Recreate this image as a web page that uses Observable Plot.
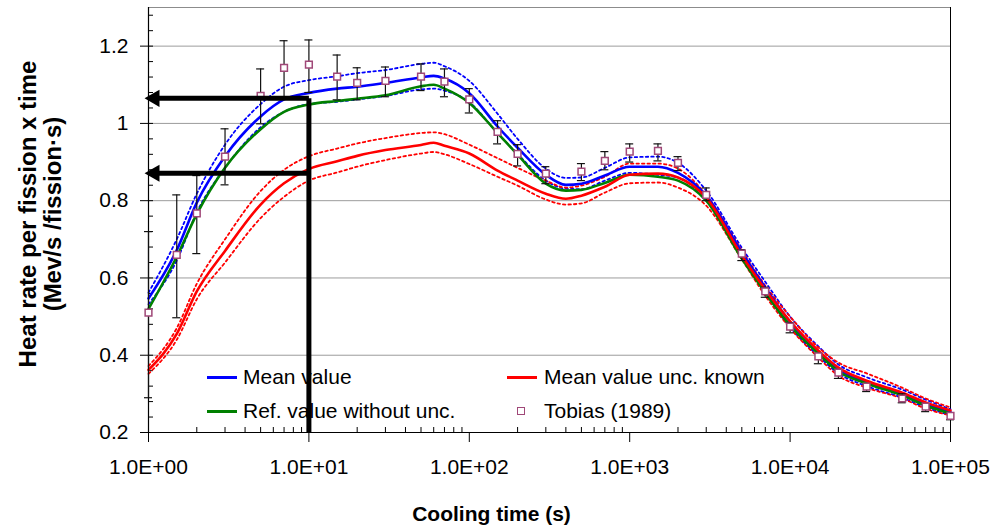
<!DOCTYPE html>
<html>
<head>
<meta charset="utf-8">
<script src="https://cdn.jsdelivr.net/npm/d3@7"></script>
<script src="https://cdn.jsdelivr.net/npm/@observablehq/plot@0.6"></script>
<style>
  body { margin: 0; background: #fff; }
  #wrap { position: relative; width: 996px; height: 527px; background: #fff; font-family: "Liberation Sans", Arial, sans-serif; }
  #legend { position: absolute; left: 0; top: 0; width: 996px; height: 527px; }
  #chart { position: absolute; left: 0; top: 0; }
  .lg-text { position: absolute; font-size: 21px; line-height: 24px; color: #000; white-space: nowrap; }
  .lg-line { position: absolute; width: 30px; height: 3px; }
  .lg-square { position: absolute; width: 6px; height: 6px; border: 1.5px solid #a04878; background: #fff; }
</style>
</head>
<body>
<div id="wrap">
  <div id="legend"></div>
  <div id="chart"></div>
</div>
<script>
// ---------- data ----------
const times = [1, 1.5, 2, 3, 5, 7, 10, 15, 20, 30, 50, 60, 70, 100, 150, 200, 300, 400, 500, 700,
  1000, 1500, 2000, 3000, 5000, 7000, 10000, 15000, 20000, 30000, 50000, 70000, 100000];

const meanValue = [0.547, 0.672, 0.795, 0.915, 1.018, 1.062, 1.079, 1.09, 1.095, 1.105, 1.119, 1.123, 1.116, 1.078, 0.992, 0.937, 0.867, 0.841, 0.844, 0.865,
  0.888, 0.888, 0.872, 0.813, 0.666, 0.575, 0.486, 0.41, 0.364, 0.331, 0.3, 0.275, 0.253];
const meanUpper = [0.562, 0.70, 0.818, 0.945, 1.05, 1.095, 1.112, 1.122, 1.13, 1.138, 1.154, 1.157, 1.148, 1.11, 1.025, 0.96, 0.883, 0.859, 0.86, 0.885,
  0.912, 0.914, 0.898, 0.826, 0.678, 0.59, 0.5, 0.423, 0.376, 0.343, 0.311, 0.285, 0.26];
const meanLower = [0.532, 0.645, 0.77, 0.885, 0.99, 1.03, 1.05, 1.056, 1.062, 1.071, 1.088, 1.09, 1.085, 1.055, 0.975, 0.921, 0.852, 0.831, 0.83, 0.852,
  0.872, 0.867, 0.86, 0.8, 0.652, 0.562, 0.473, 0.398, 0.353, 0.32, 0.29, 0.265, 0.245];
const refValue = [0.52, 0.655, 0.765, 0.885, 0.985, 1.03, 1.049, 1.058, 1.064, 1.073, 1.096, 1.1, 1.09, 1.053, 0.975, 0.919, 0.844, 0.826, 0.828, 0.846,
  0.867, 0.862, 0.852, 0.8, 0.65, 0.562, 0.477, 0.404, 0.358, 0.327, 0.296, 0.27, 0.249];
const uncKnown = [0.362, 0.455, 0.565, 0.67, 0.79, 0.845, 0.882, 0.902, 0.916, 0.931, 0.944, 0.95, 0.942, 0.922, 0.878, 0.852, 0.818, 0.805, 0.813, 0.836,
  0.867, 0.87, 0.86, 0.808, 0.658, 0.57, 0.488, 0.412, 0.368, 0.334, 0.303, 0.278, 0.257];
const uncUpper = [0.372, 0.47, 0.585, 0.70, 0.825, 0.88, 0.915, 0.935, 0.948, 0.962, 0.975, 0.977, 0.972, 0.945, 0.91, 0.885, 0.852, 0.834, 0.839, 0.862,
  0.896, 0.896, 0.883, 0.815, 0.671, 0.58, 0.5, 0.42, 0.381, 0.353, 0.316, 0.288, 0.265];
const uncLower = [0.352, 0.44, 0.545, 0.64, 0.755, 0.81, 0.852, 0.873, 0.888, 0.905, 0.922, 0.926, 0.92, 0.895, 0.862, 0.839, 0.803, 0.79, 0.793, 0.821,
  0.845, 0.847, 0.834, 0.787, 0.648, 0.554, 0.47, 0.394, 0.347, 0.316, 0.288, 0.262, 0.244];

const tobiasTime = [1, 1.5, 2, 3, 5, 7, 10, 15, 20, 30, 50, 70, 100, 150, 200, 300, 500, 700, 1000, 1500, 2000,
  3000, 5000, 7000, 10000, 15000, 20000, 30000, 50000, 70000, 100000];
const tobiasValue = [0.51, 0.66, 0.767, 0.914, 1.071, 1.144, 1.152, 1.121, 1.105, 1.11, 1.121, 1.108, 1.062, 0.978, 0.921, 0.87, 0.875, 0.903, 0.927, 0.929, 0.898,
  0.815, 0.663, 0.565, 0.474, 0.397, 0.355, 0.319, 0.288, 0.267, 0.243];
const tobiasLow = [0.29, 0.497, 0.663, 0.841, 0.999, 1.066, 1.08, 1.061, 1.061, 1.069, 1.085, 1.069, 1.027, 0.947, 0.89, 0.844, 0.852, 0.88, 0.9, 0.903, 0.878,
  0.8, 0.645, 0.55, 0.458, 0.378, 0.34, 0.306, 0.277, 0.254, 0.233];
const tobiasHigh = [0.72, 0.815, 0.865, 0.986, 1.141, 1.214, 1.216, 1.177, 1.144, 1.146, 1.154, 1.141, 1.09, 1.007, 0.945, 0.888, 0.896, 0.927, 0.947, 0.947, 0.914,
  0.833, 0.673, 0.576, 0.484, 0.405, 0.36, 0.325, 0.30, 0.272, 0.25];

const arrowLevels = [1.065, 0.871];
const arrowFromTime = 10;
const arrowToTime = 1;

const xTicks = [1, 10, 100, 1000, 10000, 100000];
const xTickLabels = ["1.0E+00", "1.0E+01", "1.0E+02", "1.0E+03", "1.0E+04", "1.0E+05"];
const yTicks = [0.2, 0.4, 0.6, 0.8, 1.0, 1.2];
const yTickLabels = ["0.2", "0.4", "0.6", "0.8", "1", "1.2"];
const yDomain = [0.2, 1.3];
const xDomain = [1, 100000];

const legendLabels = ["Mean value", "Ref. value without unc.", "Mean value unc. known", "Tobias (1989)"];
const seriesColors = {mean: "#0000ff", ref: "#008000", unc: "#ff0000", tobias: "#a04878"};

const yTitle1 = "Heat rate per fission x time";
const yTitle2 = "(Mev/s /fission·s)";
const xTitle = "Cooling time (s)";

// ---------- derived ----------
const rows = times.map((t, i) => ({
  t, meanValue: meanValue[i], meanUpper: meanUpper[i], meanLower: meanLower[i],
  refValue: refValue[i], uncKnown: uncKnown[i], uncUpper: uncUpper[i], uncLower: uncLower[i]
}));
const tob = tobiasTime.map((t, i) => ({t, v: tobiasValue[i], lo: tobiasLow[i], hi: tobiasHigh[i]}));
const arrows = arrowLevels.map(y => ({x1: arrowFromTime, x2: arrowToTime, y}));
const vArrow = [{x: arrowFromTime, y1: yDomain[0], y2: arrowLevels[0]}];

const xMinor = [];
for (let d = 1; d < 100000; d *= 10) for (let k = 2; k <= 9; k++) xMinor.push(d * k);
const yMinor = d3.range(0, 28).map(i => +(0.2 + i * 0.04).toFixed(2)).filter(v => v <= 1.3);

const dotted = {strokeWidth: 1.8, strokeDasharray: "2.5,3", curve: "monotone-x"};
const solid = {strokeWidth: 2.6, curve: "monotone-x"};

const chart = Plot.plot({
  width: 996,
  height: 527,
  marginLeft: 148,
  marginRight: 46,
  marginTop: 7,
  marginBottom: 95,
  style: {fontFamily: "'Liberation Sans', Arial, sans-serif", fontSize: "21px", background: "none", color: "#000"},
  x: {type: "log", domain: xDomain, label: null},
  y: {domain: yDomain, label: null},
  marks: [
    Plot.ruleY(yTicks.slice(1), {stroke: "#9c9c9c", strokeWidth: 1}),
    Plot.ruleY([yDomain[1]], {stroke: "#8c8c8c", strokeWidth: 1}),
    Plot.ruleX([xDomain[1]], {stroke: "#000", strokeWidth: 1}),
    Plot.axisY(yMinor, {tickSize: 5, dx: 5, tickFormat: () => "", label: null}),
    Plot.axisY(yTicks, {tickSize: 8, tickPadding: 12, tickFormat: d => yTickLabels[yTicks.indexOf(d)], label: null}),
    Plot.axisX(xMinor, {tickSize: 5, dy: -5, tickFormat: () => "", label: null}),
    Plot.axisX(xTicks, {tickSize: 10, tickPadding: 17, tickFormat: d => xTickLabels[xTicks.indexOf(d)], label: null}),
    Plot.ruleX([xDomain[0]], {stroke: "#000", strokeWidth: 1.2}),
    Plot.ruleY([yDomain[0]], {stroke: "#000", strokeWidth: 1.2}),

    Plot.line(rows, {x: "t", y: "meanUpper", stroke: seriesColors.mean, ...dotted}),
    Plot.line(rows, {x: "t", y: "meanLower", stroke: seriesColors.mean, ...dotted}),
    Plot.line(rows, {x: "t", y: "uncUpper", stroke: seriesColors.unc, ...dotted}),
    Plot.line(rows, {x: "t", y: "uncLower", stroke: seriesColors.unc, ...dotted}),
    Plot.line(rows, {x: "t", y: "meanValue", stroke: seriesColors.mean, ...solid}),
    Plot.line(rows, {x: "t", y: "refValue", stroke: seriesColors.ref, ...solid}),
    Plot.line(rows, {x: "t", y: "uncKnown", stroke: seriesColors.unc, ...solid}),

    Plot.ruleX(tob, {x: "t", y1: "lo", y2: "hi", stroke: "#111", strokeWidth: 1.2}),
    Plot.ruleY(tob, {x1: "t", x2: "t", y: "lo", insetLeft: -4, insetRight: -4, stroke: "#111", strokeWidth: 1.2}),
    Plot.ruleY(tob, {x1: "t", x2: "t", y: "hi", insetLeft: -4, insetRight: -4, stroke: "#111", strokeWidth: 1.2}),
    Plot.dot(tob, {x: "t", y: "v", symbol: "square", r: 3.8, fill: "white", stroke: seriesColors.tobias, strokeWidth: 1.5}),

    Plot.link(arrows, {x1: "x1", x2: "x2", y1: "y", y2: "y", stroke: "#000", strokeWidth: 5}),
    Plot.link(vArrow, {x1: "x", x2: "x", y1: "y1", y2: "y2", stroke: "#000", strokeWidth: 5}),
    Plot.dot(arrows, {x: "x2", y: "y", symbol: "triangle", r: 6.4, rotate: -90, dx: 6, fill: "#000", stroke: "none"}),

    Plot.text([yTitle1], {frameAnchor: "left", textAnchor: "middle", lineAnchor: "middle", rotate: -90, dx: -120, dy: -6, fontSize: 24, fontWeight: "bold", fill: "#000"}),
    Plot.text([yTitle2], {frameAnchor: "left", textAnchor: "middle", lineAnchor: "middle", rotate: -90, dx: -95, dy: -6, fontSize: 24, fontWeight: "bold", fill: "#000"}),
    Plot.text([xTitle], {frameAnchor: "bottom", textAnchor: "middle", lineAnchor: "middle", dx: -58, dy: 82, fontSize: 21, fontWeight: "bold", fill: "#000"})
  ]
});
document.getElementById("chart").appendChild(chart);

// ---------- legend (inside plot area, drawn below the SVG layer) ----------
const legendLayout = [
  {kind: "line", color: seriesColors.mean, swatchLeft: 207, textLeft: 243, cy: 377},
  {kind: "line", color: seriesColors.ref, swatchLeft: 207, textLeft: 243, cy: 411},
  {kind: "line", color: seriesColors.unc, swatchLeft: 507, textLeft: 544, cy: 377},
  {kind: "square", color: seriesColors.tobias, swatchLeft: 517, textLeft: 544, cy: 411}
];
const legend = document.getElementById("legend");
legendLabels.forEach((label, i) => {
  const L = legendLayout[i];
  const sw = document.createElement("div");
  if (L.kind === "line") {
    sw.className = "lg-line";
    sw.style.left = L.swatchLeft + "px";
    sw.style.top = (L.cy - 1.5) + "px";
    sw.style.background = L.color;
  } else {
    sw.className = "lg-square";
    sw.style.left = L.swatchLeft + "px";
    sw.style.top = (L.cy - 4.5) + "px";
    sw.style.borderColor = L.color;
  }
  legend.appendChild(sw);
  const tx = document.createElement("div");
  tx.className = "lg-text";
  tx.textContent = label;
  tx.style.left = L.textLeft + "px";
  tx.style.top = (L.cy - 12) + "px";
  legend.appendChild(tx);
});
</script>
</body>
</html>
